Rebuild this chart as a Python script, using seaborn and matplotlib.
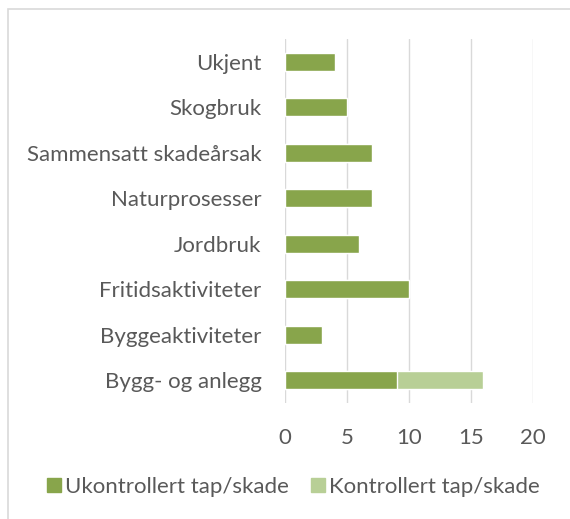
import matplotlib
matplotlib.use("Agg")
import matplotlib.pyplot as plt
import matplotlib.patches as mpatches
import pandas as pd
import seaborn as sns

categories = ["Ukjent", "Skogbruk", "Sammensatt skadeårsak", "Naturprosesser",
              "Jordbruk", "Fritidsaktiviteter", "Byggeaktiviteter", "Bygg- og anlegg"]
ukontrollert = [4, 5, 7, 7, 6, 10, 3, 9]
kontrollert = [0, 0, 0, 0, 0, 0, 0, 7]
xticks = [0, 5, 10, 15, 20]

dark = "#88A54B"
light = "#B8CF96"
text_col = "#595959"

sns.set_style("white")
plt.rcParams['font.family'] = ['Lato', 'DejaVu Sans']

df = pd.DataFrame({"kategori": categories,
                   "ukontrollert": ukontrollert,
                   "total": [a + b for a, b in zip(ukontrollert, kontrollert)]})

fig = plt.figure(figsize=(5.7, 5.19), dpi=100)
ax = fig.add_axes([0.5, 0.2235, 0.435, 0.7015])

sns.barplot(data=df, y="kategori", x="total", color=light, width=0.4,
            orient="h", ax=ax, saturation=1)
sns.barplot(data=df, y="kategori", x="ukontrollert", color=dark, width=0.4,
            orient="h", ax=ax, saturation=1)

ax.set_xlim(0, 20)
ax.set_xticks(xticks)
ax.set_xlabel("")
ax.set_ylabel("")
ax.grid(axis="x", color="#D9D9D9", linewidth=1)
ax.set_axisbelow(True)
for s in ax.spines.values():
    s.set_visible(False)
ax.tick_params(axis="y", length=0, labelsize=16, colors=text_col, pad=17)
ax.tick_params(axis="x", length=0, labelsize=16, colors=text_col, pad=18)

handles = [mpatches.Patch(color=dark, label="Ukontrollert tap/skade"),
           mpatches.Patch(color=light, label="Kontrollert tap/skade")]
fig.legend(handles=handles, loc="center", bbox_to_anchor=(0.515, 0.062), ncol=2,
           frameon=False, fontsize=16, labelcolor=text_col, handlelength=0.6,
           handleheight=0.6, handletextpad=0.2, columnspacing=1.0)

fig.patches.append(mpatches.Rectangle((8 / 570, -0.1), 1.2, 1 - 9 / 519 + 0.1,
                                      transform=fig.transFigure, fill=False,
                                      edgecolor="#D9D9D9", linewidth=1.2))

fig.savefig("out.png", dpi=100)
